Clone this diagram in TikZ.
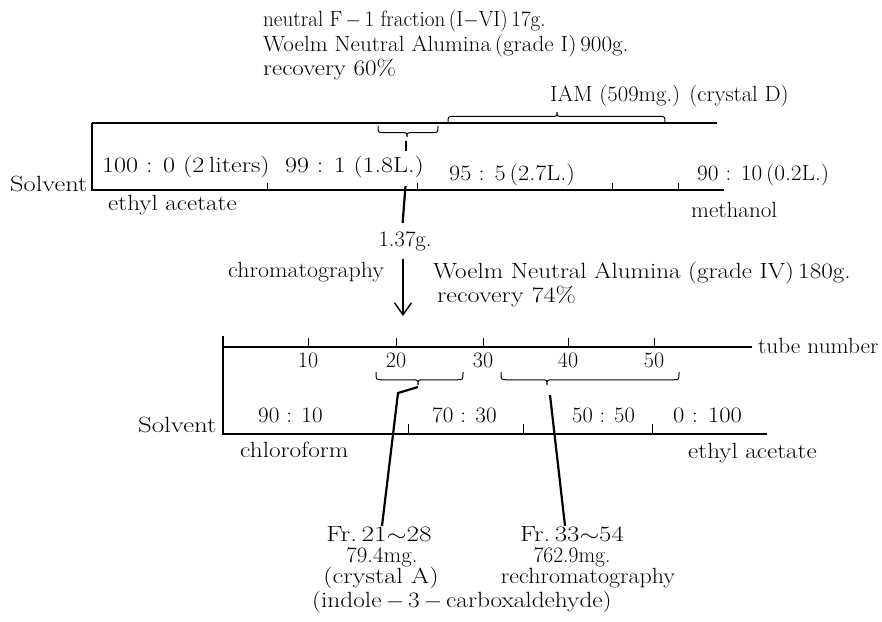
\documentclass[tikz,border=0pt]{standalone}
\usepackage{graphicx}
\usetikzlibrary{arrows.meta}
\newcommand\mybrace[5]{% x1, x2, xtip, y0, depth
  \draw[brc] (#1,#4) .. controls (#1,#4+0.6*#5) .. (#1+6,#4+0.6*#5) -- (#3-6,#4+0.6*#5)
    .. controls (#3,#4+0.6*#5) .. (#3,#4+#5)
    .. controls (#3,#4+0.6*#5) .. (#3+6,#4+0.6*#5) -- (#2-6,#4+0.6*#5)
    .. controls (#2,#4+0.6*#5) .. (#2,#4);}
\newcommand\sx[2]{\scalebox{#1}[1]{#2}}
\begin{document}
\begin{tikzpicture}[x=1pt,y=-1pt,
  lbl/.style={inner sep=0pt, font=\fontsize{22}{26}\selectfont},
  rule/.style={line width=1.2pt},
  brc/.style={line width=1pt},
  conn/.style={line width=2.2pt},
  tickmark/.style={line width=1pt}]
\useasboundingbox (0,0) rectangle (882,621);

% ---------- upper chromatography ----------
\node[lbl, anchor=base west] (src1) at (263,26) {\sx{0.96}{neutral F$\,-\,$1 fraction\,(I$-$VI)\,17g.}};
\node[lbl, anchor=base west] (src2) at (263,51) {\sx{1.05}{Woelm Neutral Alumina\,(grade I)\,900g.}};
\node[lbl, anchor=base west] (src3) at (263,75) {\sx{1.14}{recovery 60\%}};
\node[lbl, anchor=base west] (iam) at (550,101) {\sx{1.03}{IAM (509mg.) (crystal D)}};

\draw[rule] (92,123) -- (717,123);
\draw[rule] (92,123) -- (92,190) -- (724,190);
\foreach \x in {267,417,612,678} \draw[tickmark] (\x,183) -- (\x,190);

\mybrace{378}{438}{407}{126}{11}
\mybrace{448}{665}{557}{123}{-11}

\node[lbl, anchor=base west] (s1) at (102,172) {\sx{1.19}{100 : 0 (2\,liters)}};
\node[lbl, anchor=base west] (s2) at (285,172) {\sx{1.18}{99 : 1 (1.8L.)}};
\node[lbl, anchor=base west] (s3) at (449,180) {\sx{1.10}{95 : 5\,(2.7L.)}};
\node[lbl, anchor=base west] (s4) at (697,180) {\sx{1.06}{90 : 10\,(0.2L.)}};
\node[lbl, anchor=base west] (solv1) at (10,191) {\sx{1.2}{Solvent}};
\node[lbl, anchor=base west] (ea1) at (108,210) {\sx{1.14}{ethyl acetate}};
\node[lbl, anchor=base west] (meoh) at (691,217) {\sx{1.05}{methanol}};

\coordinate (capS) at (406,141);
\coordinate (capE) at (406,151);
\draw[line width=1.6pt] (capS) -- (capE);

\node[lbl, anchor=base] (g137) at (405,246) {\sx{1.03}{1.37g.}};
\coordinate (c1) at (405.5,186);
\draw[conn, shorten >=8pt] (c1) -- ([xshift=-3pt]g137.north);

\coordinate (arrTip) at (403,316);
\draw[line width=1.4pt, -{Straight Barb[length=12pt,width=17pt,line width=1.4pt]}, shorten <=8pt]
  (g137.south -| arrTip) -- (arrTip);

\node[lbl, anchor=base west] (chrom) at (228,277) {\sx{1.09}{chromatography}};
\node[lbl, anchor=base west] (ads2) at (433,278) {\sx{1.14}{Woelm Neutral Alumina (grade IV)\,180g.}};
\node[lbl, anchor=base west] (rec2) at (437,302) {\sx{1.19}{recovery 74\%}};

% ---------- lower chromatography ----------
\draw[rule] (223,336) -- (223,434) -- (767,434);
\draw[rule] (223,347) -- (752,347);
\node[lbl, anchor=base west] (tube) at (758,353) {\sx{1.06}{tube number}};
\foreach \x/\n in {308/10,396/20,483/30,568/40,654/50}{
  \draw[tickmark] (\x,338) -- (\x,347);
  \node[lbl, anchor=base] (t\n) at (\x,367) {\n};
}
\foreach \x in {408,523,652} \draw[tickmark] (\x,424) -- (\x,434);

\mybrace{376}{463}{418}{372}{13}
\mybrace{501}{679}{547}{372}{13}

\node[lbl, anchor=base west] (r1) at (258,422) {\sx{1.05}{90 : 10}};
\node[lbl, anchor=base west] (r2) at (432,422) {\sx{1.05}{70 : 30}};
\node[lbl, anchor=base west] (r3) at (572,422) {\sx{1.02}{50 : 50}};
\node[lbl, anchor=base west] (r4) at (673,422) {\sx{1.12}{0 : 100}};
\node[lbl, anchor=base west] (solv2) at (138,432) {\sx{1.22}{Solvent}};
\node[lbl, anchor=base west] (chcl) at (240,457) {\sx{1.15}{chloroform}};
\node[lbl, anchor=base west] (ea2) at (688,458) {\sx{1.14}{ethyl acetate}};

\node[lbl, anchor=base] (frA) at (379,541) {\sx{1.24}{Fr.\,21$\sim$28}};
\node[lbl, anchor=base] (mgA) at (382,562) {\sx{1.04}{79.4mg.}};
\node[lbl, anchor=base] (crA) at (381,583) {\sx{1.2}{(crystal A)}};
\node[lbl, anchor=base west] (ind) at (312,607) {\sx{1.15}{(indole$\,-\,$3$\,-\,$carboxaldehyde)}};

\node[lbl, anchor=base] (frB) at (572,541) {\sx{1.22}{Fr.\,33$\sim$54}};
\node[lbl, anchor=base] (mgB) at (572,562) {\sx{0.98}{762.9mg.}};
\node[lbl, anchor=base] (reB) at (588,583) {\sx{1.09}{rechromatography}};

\coordinate (bA) at (418,387);
\coordinate (bA2) at (398,393);
\draw[conn] (bA) -- (bA2) -- ([xshift=3pt]frA.north);
\coordinate (bB) at (550,395);
\draw[conn] (bB) -- ([xshift=-7pt]frB.north);
\end{tikzpicture}
\end{document}
